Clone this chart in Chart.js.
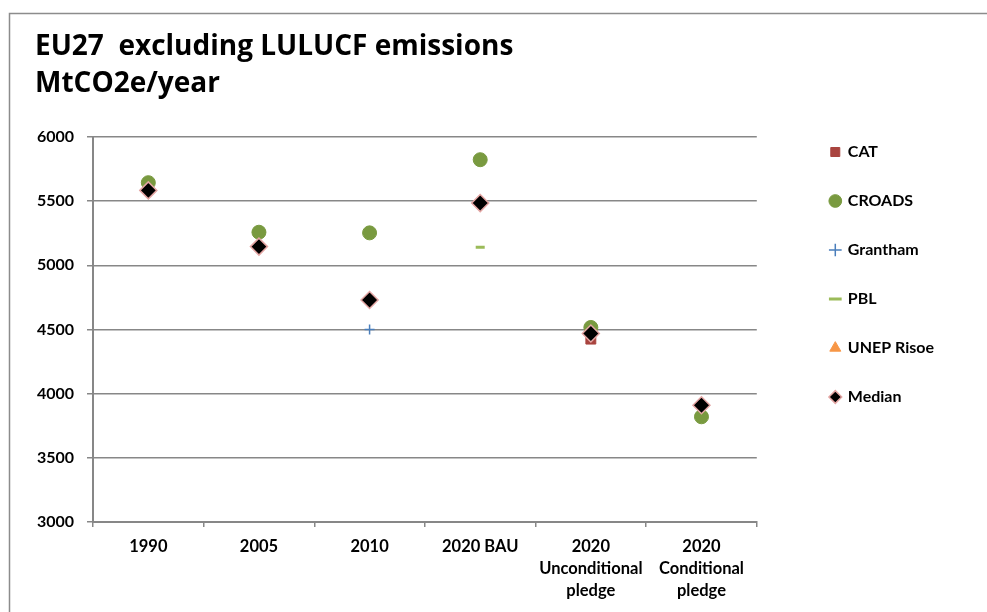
<!DOCTYPE html>
<html>
<head>
<meta charset="utf-8">
<script src="https://cdn.jsdelivr.net/npm/chart.js@4/dist/chart.umd.min.js"></script>
<style>
  html, body { margin: 0; padding: 0; background: #fff; }
  #wrap { width: 987px; height: 612px; position: relative; }
</style>
</head>
<body>
<div id="wrap"><canvas id="chart-eu27"></canvas></div>
<script>
// ==================== DATA ====================
const categories = ['1990', '2005', '2010', '2020 BAU', ['2020', 'Unconditional', 'pledge'], ['2020', 'Conditional', 'pledge']];
const catValues      = [null, null, null, null, 4425, null];
const croadsValues   = [5644, 5258, 5253, 5823, 4516, 3820];
const granthamValues = [null, null, 4500, null, null, null];
const pblValues      = [null, null, null, 5141, null, null];
const unepValues     = [null, null, null, null, null, null];
const medianValues   = [5584, 5146, 4730, 5485, 4469, 3910];
const yTicks = { min: 3000, max: 6000, step: 500 };

const FONT = 'Lato, "Open Sans", sans-serif';
const GRID = '#878787';

// grey frame along the top and left edge of the figure
const framePlugin = {
    id: 'frame',
    beforeDraw(chart) {
        const c = chart.ctx;
        c.save();
        c.strokeStyle = '#8c8c8c';
        c.lineWidth = 1.5;
        c.beginPath();
        c.moveTo(9.5, chart.height);
        c.lineTo(9.5, 13.5);
        c.lineTo(chart.width, 13.5);
        c.stroke();
        c.restore();
    }
};

// legend sits to the right of the plot, its first row level with the top gridline
const legendShift = {
    id: 'legendShift',
    afterLayout(chart) {
        const l = chart.legend;
        if (!l) return;
        const dx = 41;
        const dy = (chart.chartArea.top - 26) - l.top;
        l.left += dx; l.right += dx;
        l.top += dy;  l.bottom += dy;
    }
};

function serie(label, data, style, order) {
    return Object.assign({ label, data, showLine: false, order }, style);
}

const datasets = [
    serie('CAT', catValues, {
        pointStyle: 'rect', pointRadius: 7, pointHoverRadius: 7,
        pointBackgroundColor: '#a9443f', pointBorderColor: '#a9443f', pointBorderWidth: 1
    }, 6),
    serie('CROADS', croadsValues, {
        pointStyle: 'circle', pointRadius: 7, pointHoverRadius: 7,
        pointBackgroundColor: '#799a40', pointBorderColor: '#799a40', pointBorderWidth: 1
    }, 5),
    serie('Grantham', granthamValues, {
        pointStyle: 'cross', pointRadius: 5, pointHoverRadius: 5,
        pointBackgroundColor: '#4a7ebb', pointBorderColor: '#4a7ebb', pointBorderWidth: 1.5
    }, 4),
    serie('PBL', pblValues, {
        pointStyle: 'line', pointRadius: 4.5, pointHoverRadius: 4.5,
        pointBackgroundColor: '#9bbb59', pointBorderColor: '#9bbb59', pointBorderWidth: 3
    }, 3),
    serie('UNEP Risoe', unepValues, {
        pointStyle: 'triangle', pointRadius: 7, pointHoverRadius: 7,
        pointBackgroundColor: '#f79646', pointBorderColor: '#f79646', pointBorderWidth: 1
    }, 2),
    serie('Median', medianValues, {
        pointStyle: 'rectRot', pointRadius: 8.5, pointHoverRadius: 8.5,
        pointBackgroundColor: '#000000', pointBorderColor: '#e3a5a3', pointBorderWidth: 1.5
    }, 1)
];

const ctx = document.getElementById('chart-eu27').getContext('2d');
window.eu27Chart = new Chart(ctx, {
    type: 'line',
    data: { labels: categories, datasets },
    plugins: [framePlugin, legendShift],
    options: {
        responsive: true,
        maintainAspectRatio: false,
        animation: false,
        layout: { padding: { left: 35, right: 84, top: 0, bottom: 0 } },
        plugins: {
            title: {
                display: true,
                align: 'start',
                text: ['EU27  excluding LULUCF emissions', 'MtCO2e/year'],
                color: '#000',
                font: { family: '"Open Sans", Lato, sans-serif', size: 28, weight: 'bold', lineHeight: 1.3 },
                padding: { top: 29, bottom: 35.2 }
            },
            legend: {
                position: 'right',
                align: 'start',
                reverse: true,
                labels: {
                    usePointStyle: true,
                    boxWidth: 9,
                    boxHeight: 9,
                    padding: 33,
                    color: '#000',
                    font: { family: FONT, size: 16, weight: 'bold' }
                }
            },
            tooltip: { enabled: false }
        },
        scales: {
            x: {
                type: 'category',
                offset: true,
                afterFit: s => { s.height = 90; },
                grid: { offset: true, drawOnChartArea: false, drawTicks: true, tickLength: 5, color: GRID, lineWidth: 1.5 },
                border: { color: GRID, width: 2 },
                ticks: {
                    autoSkip: false, maxRotation: 0, padding: 9, color: '#000',
                    font: { family: FONT, size: 16.5, weight: 'bold', lineHeight: 1.33 }
                }
            },
            y: {
                min: yTicks.min,
                max: yTicks.max,
                afterFit: s => { s.width = 58; },
                grid: { color: GRID, lineWidth: 1.5, tickLength: 6 },
                border: { color: GRID, width: 2 },
                ticks: {
                    stepSize: yTicks.step, padding: 13, color: '#000',
                    callback: v => String(v),
                    font: { family: FONT, size: 16, weight: 'bold' }
                }
            }
        }
    }
});
</script>
</body>
</html>
